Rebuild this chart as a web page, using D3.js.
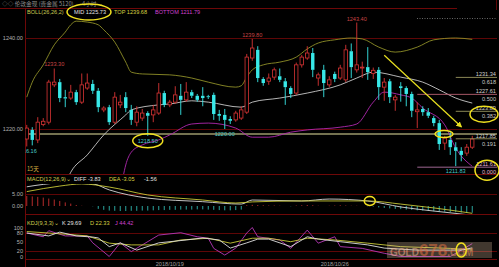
<!DOCTYPE html>
<html><head><meta charset="utf-8">
<script src="https://cdn.jsdelivr.net/npm/d3@7"></script>
<style>
body{margin:0;background:#000;overflow:hidden;}
svg{display:block;}
text{font-family:"Liberation Sans",Arial,sans-serif;font-size:5.6px;}
.cjk{font-family:"Noto Sans CJK SC",sans-serif;}
</style></head><body>
<svg width="499" height="267"></svg>
<script>
// 4h candles, London gold
const opens  = [1217.8,1219.8,1217.6,1221.0,1221.5,1229.7,1230.3,1227.0,1226.8,1228.1,1225.9,1229.0,1229.9,1228.4,1224.2,1224.8,1221.5,1225.3,1227.0,1224.2,1221.5,1222.4,1223.5,1223.1,1223.5,1227.9,1225.3,1225.9,1227.3,1226.4,1228.1,1227.3,1227.3,1227.2,1227.5,1223.3,1223.1,1222.2,1222.0,1222.4,1223.7,1235.6,1237.4,1231.0,1230.5,1231.4,1231.6,1230.5,1229.0,1227.9,1234.1,1235.6,1236.7,1231.2,1233.0,1229.7,1232.1,1231.2,1230.8,1237.1,1233.0,1233.4,1233.6,1232.2,1233.0,1229.2,1230.5,1226.4,1229.4,1229.0,1227.7,1223.8,1224.4,1223.7,1222.4,1221.3,1216.9,1217.6,1216.0,1215.2,1214.7,1216.0];
const highs  = [1220.9,1220.4,1222.6,1222.4,1230.8,1233.3,1231.0,1228.6,1229.7,1228.6,1232.2,1232.2,1230.8,1229.0,1225.0,1225.3,1228.1,1227.5,1228.1,1225.3,1225.0,1224.4,1223.9,1225.3,1230.1,1228.4,1226.4,1229.4,1229.9,1230.3,1228.6,1227.7,1229.2,1227.5,1228.0,1224.2,1224.4,1222.8,1224.0,1225.0,1236.5,1239.8,1238.2,1231.4,1232.2,1233.5,1233.3,1231.2,1229.4,1234.6,1236.3,1238.2,1237.8,1232.4,1234.1,1231.6,1232.6,1234.1,1238.5,1238.8,1243.4,1234.8,1238.0,1233.5,1233.6,1231.2,1231.0,1227.5,1230.3,1229.4,1228.2,1225.9,1225.0,1224.6,1222.9,1222.0,1218.5,1219.3,1217.1,1216.0,1216.7,1218.5];
const lows   = [1216.16,1216.4,1216.9,1220.6,1221.0,1229.2,1225.9,1224.8,1226.4,1225.3,1225.5,1228.6,1227.7,1223.7,1223.7,1220.9,1221.1,1224.6,1223.7,1220.9,1220.6,1221.8,1218.5,1221.5,1223.1,1224.8,1224.8,1225.5,1223.1,1226.0,1226.8,1226.0,1225.0,1226.6,1222.0,1221.8,1220.0,1221.1,1221.6,1222.0,1223.3,1235.0,1230.3,1229.5,1229.7,1230.8,1230.3,1225.3,1226.8,1227.5,1233.5,1235.2,1231.4,1229.5,1227.0,1229.2,1230.3,1230.8,1230.3,1231.2,1232.4,1231.2,1230.8,1231.0,1226.4,1226.2,1225.7,1224.0,1226.0,1225.0,1222.6,1220.2,1222.9,1222.4,1220.6,1215.4,1215.4,1214.3,1211.83,1212.9,1214.1,1215.6];
const closes = [1220.2,1217.6,1221.5,1221.7,1230.3,1230.3,1226.8,1226.7,1228.1,1225.9,1229.7,1230.1,1228.4,1224.8,1224.6,1221.5,1227.0,1225.9,1224.6,1222.0,1223.7,1223.5,1222.9,1224.2,1227.9,1225.3,1225.9,1227.5,1226.4,1228.1,1227.3,1226.4,1226.8,1227.0,1223.3,1222.9,1222.0,1221.8,1223.5,1224.2,1235.8,1237.8,1231.2,1230.1,1231.2,1233.0,1230.8,1229.2,1227.7,1234.1,1235.8,1236.7,1233.0,1231.9,1230.1,1230.8,1231.0,1233.4,1237.4,1233.6,1234.1,1233.6,1232.5,1232.9,1229.2,1230.3,1227.0,1227.0,1229.0,1227.7,1224.0,1224.2,1223.7,1222.9,1221.3,1216.7,1218.0,1216.0,1215.2,1214.3,1216.0,1217.8];

// Bollinger band readings: [candle index, price]
const bollUpper = [[0,1227.0],[1,1230.3],[3,1234.1],[5,1238.5],[7,1241.3],[8,1242.9],[9,1243.7],[11,1243.5],[13,1242.9],[14,1241.8],[16,1239.1],[18,1234.7],[19,1232.5],[21,1232.1],[26,1231.9],[30,1231.2],[33,1230.3],[38,1229.2],[39,1229.5],[40,1231.4],[41,1233.0],[43,1234.1],[46,1234.7],[49,1235.8],[51,1237.6],[53,1238.9],[56,1239.6],[59,1240.0],[61,1239.8],[64,1238.0],[67,1236.9],[71,1238.0],[74,1239.6],[78,1240.0],[81,1239.7]];
const bollMid = [[7,1208.0],[8,1210.5],[11,1214.3],[14,1218.7],[18,1223.1],[19,1224.2],[24,1225.3],[26,1225.5],[30,1226.2],[33,1225.9],[39,1224.8],[41,1225.9],[46,1226.8],[51,1227.9],[57,1229.7],[60,1231.2],[63,1232.5],[68,1231.4],[72,1230.3],[75,1228.6],[78,1226.8],[81,1225.7]];
const bollLower = [[17,1206.0],[18,1212.1],[19,1214.9],[21,1216.5],[24,1217.6],[26,1218.7],[30,1221.1],[33,1221.3],[38,1220.2],[41,1218.2],[44,1218.2],[48,1219.3],[51,1219.8],[57,1220.4],[60,1221.1],[63,1225.9],[65,1228.1],[68,1227.5],[70,1226.8],[72,1224.6],[76,1220.9],[78,1215.8],[81,1211.8]];

const priceTicks = [1240, 1220];
const supportLine = 1218.9;
// high / low labels: [index, price, 'h'|'l']
const extremes = [[0,1216.16,'l'],[5,1233.30,'h'],[22,1218.50,'l'],[36,1220.00,'l'],[41,1239.80,'h'],[60,1243.40,'h'],[78,1211.83,'l']];

// fibonacci retracement
const fibPrices = [1231.34, 1227.61, 1223.89, 1217.85, 1211.61];
const fibRatios = ["0.618", "0.500", "0.382", "0.191", "0.000"];
const fibFrom   = [78, 71, 78, 78, 71];
const arrowFrom = [65, 1236.2], arrowTo = [79, 1220.5];

// MACD
const macdHist = [4.2,4.0,3.8,3.5,3.1,2.7,2.1,1.5,1.0,0.4,0.1,0.0,-0.1,
  -1.2,-1.6,-1.9,-2.0,-2.1,-2.1,-2.0,-2.0,-1.9,-1.9,-1.8,-1.7,-1.7,-1.6,-1.6,-1.5,-1.5,-1.5,-1.4,-1.4,-1.5,-1.6,-1.7,-1.8,-1.8,-1.7,-1.5,
  0.3,0.5,0.4,0.3,0.2,0.2,0.1,0.0,-0.1,0.2,0.3,0.4,0.3,0.1,0.0,0.1,0.2,0.3,0.2,0.1,0.1,0.0,-0.1,-0.2,
  -0.6,-0.8,-1.0,-1.2,-1.3,-1.5,-1.6,-1.8,-1.9,-2.0,-2.2,-2.3,-2.4,-2.5,-2.6,-2.7,-2.8,-2.8];
const macdDiff = [[0,8.0],[3,9.0],[6,9.6],[12,9.2],[15,6.7],[22,3.3],[32,1.8],[39,0.8],[41,2.5],[50,2.1],[55,2.9],[62,2.1],[68,-0.4],[74,-2.1],[81,-3.83]];
const macdDea  = [[0,6.0],[6,8.3],[10,9.2],[15,7.9],[22,4.6],[32,2.5],[38,1.25],[41,1.7],[50,2.1],[62,2.1],[68,0.8],[74,-0.8],[81,-3.05]];
const macdTicks = [5, 0];

// KDJ
const kdjK = [[0,81],[4,71],[6,84],[9,71],[12,67],[13,64],[15,34],[17,47],[20,22],[24,47],[29,57],[32,64],[35,57],[37,29],[40,47],[42,60],[44,60],[48,34],[51,68],[53,60],[57,51],[62,40],[65,29],[71,22],[77,22],[79,22],[81,29.69]];
const kdjD = [[0,86],[7,77],[11,71],[15,46],[19,40],[24,40],[28,57],[33,63],[37,46],[41,63],[44,63],[48,51],[51,63],[56,57],[62,46],[68,34],[77,28],[81,22.33]];
const kdjJ = [[0,81],[3,68],[4,89],[7,71],[11,71],[12,47],[15,0],[17,47],[19,17],[24,74],[28,82],[31,68],[33,63],[34,28],[36,5],[38,29],[40,81],[41,100],[42,68],[46,57],[48,28],[51,91],[53,46],[56,68],[57,34],[61,28],[65,11],[68,0],[77,0],[79,22],[81,44.42]];
const kdjTicks = [100, 80, 50, 20, 0];

const dates = [[26,"2018/10/19"],[56,"2018/10/26"]];

const svg = d3.select("svg");
const left = 25, right = 497;
const gridC = "#5e0606";

const x = d3.scaleBand().domain(d3.range(opens.length)).range([24, 475]);
const cx = i => x(i) + x.bandwidth() / 2;
const y = d3.scaleLinear().domain([1220, 1240]).range([129, 38]);
const ym = d3.scaleLinear().domain([0, 5]).range([206, 194]);
const yk = d3.scaleLinear().domain([0, 100]).range([256.5, 227.5]);

const defs = svg.append("defs");
defs.append("clipPath").attr("id","cMain").append("rect").attr("x",left).attr("y",9).attr("width",right-left).attr("height",165);
defs.append("clipPath").attr("id","cMacd").append("rect").attr("x",left).attr("y",184).attr("width",right-left).attr("height",30);
defs.append("clipPath").attr("id","cKdj").append("rect").attr("x",left).attr("y",226).attr("width",right-left).attr("height",33);

// frame lines
const hl = (yy, x1, x2, c) => svg.append("line").attr("x1",x1).attr("x2",x2).attr("y1",yy).attr("y2",yy).attr("stroke",c||gridC).attr("stroke-width",1);
hl(8.5, 0, 457, "#6e0808");
svg.append("line").attr("x1",left+0.5).attr("x2",left+0.5).attr("y1",8).attr("y2",267).attr("stroke","#6e0808");
svg.append("line").attr("x1",496.5).attr("x2",496.5).attr("y1",0).attr("y2",10).attr("stroke",gridC);
priceTicks.forEach(p => hl(Math.round(y(p))+0.5, left, right));
hl(174.5, left, right, "#6e0808");
hl(ym(5)+0.5, left, right);
hl(214.5, left, right, "#6e0808");
hl(Math.round(yk(80))+0.5, left, right);
hl(Math.round(yk(20))+0.5, left, right);
hl(259.5, left, right, "#6e0808");
svg.append("line").attr("x1",417).attr("x2",497).attr("y1",18.5).attr("y2",18.5).attr("stroke","#666").attr("stroke-dasharray","1,1.5");

// header
svg.append("text").attr("class","cjk").attr("x",2).attr("y",6).attr("fill","#8e8e8e").style("font-size","5.7px").text("◇◇ 伦敦金现 (贵金属 5120)");
svg.append("text").attr("class","cjk").attr("x",82).attr("y",6).attr("fill","#8e8e8e").style("font-size","5.7px").text("4小时 ⌄");

// axis labels
const axisLab = (yy, t) => svg.append("text").attr("x",23).attr("y",yy+2).attr("text-anchor","end").attr("fill","#b0b0b0").text(t);
priceTicks.forEach(p => axisLab(y(p), p.toFixed(2)));
macdTicks.forEach(v => axisLab(ym(v), v.toFixed(2)));
kdjTicks.forEach(v => axisLab(yk(v), v));

// legends
const legend = (yy, items) => items.forEach(([xx, t, c]) => svg.append("text").attr("x",xx).attr("y",yy).attr("fill",c).text(t));
legend(14, [[27,"BOLL(26,26,2)","#c8c850"],[74,"MID 1225.73","#e0e0e0"],[114,"TOP 1239.68","#d8d040"],[155,"BOTTOM 1211.79","#d040d0"]]);
legend(180.5, [[27,"MACD(12,26,9)⌄","#d0d050"],[74,"DIFF -3.83","#e0e0e0"],[109,"DEA -3.05","#d8d040"],[144,"-1.56","#e0e0e0"]]);
legend(225, [[27,"KDJ(9,3,3)⌄","#d0d050"],[62,"K 29.69","#e0e0e0"],[90,"D 22.33","#d8d040"],[115,"J 44.42","#d040d0"]]);
svg.append("text").attr("class","cjk").attr("x",27).attr("y",171).attr("fill","#d8b040").style("font-size","5.6px").text("15天");

// main panel
const main = svg.append("g").attr("clip-path","url(#cMain)");
main.append("line").attr("x1",left).attr("x2",right).attr("y1",y(supportLine)).attr("y2",y(supportLine)).attr("stroke","#e8e4a0").attr("stroke-width",1);

const bandLine = d3.line().x(d => cx(d[0])).y(d => y(d[1])).curve(d3.curveMonotoneX);
[[bollUpper,"#8e8e28"],[bollMid,"#c8c8c8"],[bollLower,"#b028b0"]].forEach(([d,c]) =>
  main.append("path").attr("d", bandLine(d)).attr("fill","none").attr("stroke",c).attr("stroke-width",0.9));

const bw = 3.4;
const candles = main.selectAll(".c").data(d3.range(opens.length)).enter().append("g");
candles.each(function(i) {
  const g = d3.select(this), up = closes[i] >= opens[i];
  const top = y(Math.max(opens[i], closes[i])), bot = y(Math.min(opens[i], closes[i]));
  const col = up ? "#d83434" : "#38e8e8";
  g.append("line").attr("x1",cx(i)).attr("x2",cx(i)).attr("y1",y(highs[i])).attr("y2",top).attr("stroke",col).attr("stroke-width",0.9);
  g.append("line").attr("x1",cx(i)).attr("x2",cx(i)).attr("y1",bot).attr("y2",y(lows[i])).attr("stroke",col).attr("stroke-width",0.9);
  g.append("rect").attr("x",cx(i)-bw/2).attr("y",top).attr("width",bw).attr("height",Math.max(bot-top,0.8))
    .attr("fill", up ? "#000" : col).attr("stroke", up ? col : "none").attr("stroke-width",0.8);
});

main.selectAll(".ext").data(extremes).enter().append("text")
  .attr("x", d => cx(d[0])).attr("text-anchor","middle")
  .attr("y", d => d[2] === 'h' ? y(d[1]) - 2 : y(d[1]) + 7)
  .attr("fill", d => d[2] === 'h' ? "#c84444" : "#48c8c8")
  .text(d => d[1].toFixed(2));

// fibonacci levels
const fibCol = ["#9a9660","#b86070","#9a9660","#9a9660","#b070a0"];
fibPrices.forEach((p, k) => {
  main.append("line").attr("x1",cx(fibFrom[k])).attr("x2",right).attr("y1",y(p)).attr("y2",y(p)).attr("stroke",fibCol[k]).attr("stroke-width",0.9);
  main.append("text").attr("x",496).attr("y",y(p)-1).attr("text-anchor","end").attr("fill", k===4 ? "#e0b0d0" : "#d0d0d0").text(p.toFixed(2));
  main.append("text").attr("x",496).attr("y",y(p)+7).attr("text-anchor","end").attr("fill", k===4 ? "#e0b0d0" : "#c8c8c8").text(fibRatios[k]);
});

// arrow
defs.append("marker").attr("id","ah").attr("viewBox","0 0 10 10").attr("refX",8).attr("refY",5)
  .attr("markerWidth",5).attr("markerHeight",5).attr("orient","auto")
  .append("path").attr("d","M0,0L10,5L0,10z").attr("fill","#e8e020");
svg.append("line").attr("x1",cx(arrowFrom[0])).attr("y1",y(arrowFrom[1])).attr("x2",cx(arrowTo[0])).attr("y2",y(arrowTo[1]))
  .attr("stroke","#e8e020").attr("stroke-width",1.2).attr("marker-end","url(#ah)");

// MACD panel
const mg = svg.append("g").attr("clip-path","url(#cMacd)");
mg.selectAll(".h").data(macdHist).enter().append("line")
  .attr("x1",(d,i)=>cx(i)).attr("x2",(d,i)=>cx(i))
  .attr("y1", ym(0)).attr("y2", d => ym(d))
  .attr("stroke", d => d >= 0 ? "#c83030" : "#30b8b0").attr("stroke-width",0.9);
const mline = d3.line().x(d => cx(d[0])).y(d => ym(d[1])).curve(d3.curveMonotoneX);
mg.append("path").attr("d", mline(macdDiff)).attr("fill","none").attr("stroke","#d8d8d8").attr("stroke-width",0.9);
mg.append("path").attr("d", mline(macdDea)).attr("fill","none").attr("stroke","#c8c838").attr("stroke-width",0.9);

// KDJ panel
const kg = svg.append("g").attr("clip-path","url(#cKdj)");
const kline = d3.line().x(d => cx(d[0])).y(d => yk(d[1]));
kg.append("path").attr("d", kline(kdjJ)).attr("fill","none").attr("stroke","#b838b8").attr("stroke-width",0.9);
kg.append("path").attr("d", kline(kdjD)).attr("fill","none").attr("stroke","#c8c838").attr("stroke-width",0.9);
kg.append("path").attr("d", kline(kdjK)).attr("fill","none").attr("stroke","#e0e0e0").attr("stroke-width",0.9);

// dates
dates.forEach(([i, t]) => svg.append("text").attr("x",cx(i)).attr("y",265.5).attr("text-anchor","middle").attr("fill","#a0a0a0").text(t));

// watermark
svg.append("rect").attr("x",387).attr("y",242).attr("width",105).attr("height",16).attr("fill","#e8c8a8").attr("opacity",0.28);
const wm = svg.append("text").attr("x",390).attr("y",256).attr("opacity",0.55).style("font-weight","bold");
wm.append("tspan").attr("fill","#f0b090").style("font-size","10px").text("GOLD");
wm.append("tspan").attr("fill","#e07040").style("font-size","17px").text("678");
wm.append("tspan").attr("fill","#e09060").style("font-size","10px").text(".COM");

// yellow highlight rings
const ring = (ex, ey, rx, ry) => svg.append("ellipse").attr("cx",ex).attr("cy",ey).attr("rx",rx).attr("ry",ry)
  .attr("fill","none").attr("stroke","#f0e020").attr("stroke-width",1.5);
ring(89, 12, 22, 8);
ring(cx(22), y(1218.5) + 5, 15, 7);
ring(444, y(supportLine), 9, 3.5);
ring(484, y(fibPrices[2]) + 3, 14, 8);
ring(487, y(fibPrices[4]) + 3, 12, 10);
ring(cx(62)+2, ym(2.1), 5.5, 4.5);
ring(cx(79), 250, 5, 7);
</script>
</body></html>
